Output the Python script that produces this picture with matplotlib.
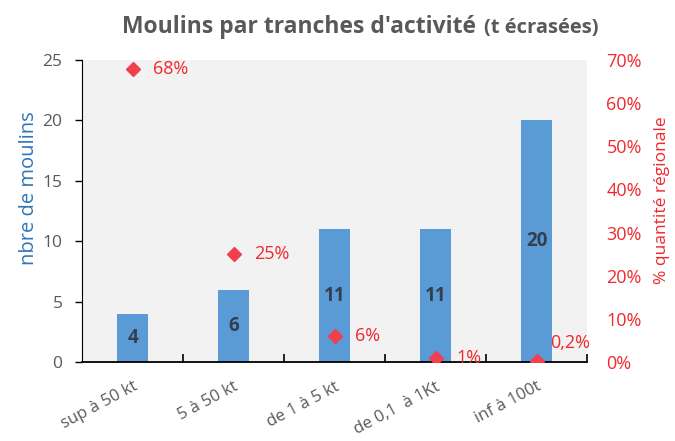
import matplotlib.pyplot as plt
import numpy as np

plt.rcParams['font.family'] = ['Open Sans', 'DejaVu Sans']

categories = ["sup à 50 kt", "5 à 50 kt", "de 1 à 5 kt", "de 0,1  à 1Kt", "inf à 100t"]
nb_moulins = [4, 6, 11, 11, 20]
pct_quantite = [68, 25, 6, 1, 0.2]
pct_labels = ["68%", "25%", "6%", "1%", "0,2%"]

blue = "#5B9BD5"
red = "#F0282D"
gray = "#595959"

fig = plt.figure(figsize=(6.75, 4.41), dpi=100)
ax = fig.add_axes([82/675, 1-362/441, 505/675, 302/441])
ax.set_facecolor("#F2F2F2")
x = np.arange(len(categories))

ax.bar(x, nb_moulins, width=0.31, color=blue, zorder=2)
for xi, v in zip(x, nb_moulins):
    ax.text(xi, v/2, str(v), ha="center", va="center", fontsize=13.5,
            fontweight="bold", color="#333F50", zorder=3)

ax.set_xlim(-0.5, 4.5)
ax.set_ylim(0, 25)
ax.set_yticks([0, 5, 10, 15, 20, 25])
ax.tick_params(axis="y", labelcolor=gray, labelsize=12.5, length=5, direction="out",
               width=1, color="black", pad=9)
ax.set_xticks(x)
ax.set_xticklabels(categories, rotation=28, ha="right", va="top", rotation_mode="anchor",
                   fontsize=12, color=gray)
ax.tick_params(axis="x", length=0, pad=12)
# petits traits entre les catégories
ax.set_xticks(np.arange(0.5, 5, 1), minor=True)
ax.tick_params(axis="x", which="minor", length=6, direction="in", color="black", width=1.2)
for s in ["top", "right"]:
    ax.spines[s].set_visible(False)
ax.spines["left"].set_color("black")
ax.spines["bottom"].set_color("black")
ax.spines["bottom"].set_linewidth(1.3)

# axe de droite : % quantité
ax2 = ax.twinx()
ax2.plot(x, pct_quantite, linestyle="none", marker="D", markersize=7,
         color="#F04050", zorder=4)
ax2.set_ylim(0, 70)
ax2.set_yticks(range(0, 71, 10))
ax2.set_yticklabels([f"{v}%" for v in range(0, 71, 10)])
ax2.tick_params(axis="y", colors=red, labelsize=13, length=0, pad=14)
for s in ["top", "right", "left", "bottom"]:
    ax2.spines[s].set_visible(False)

offsets = [(14.5, 0), (14.5, 0), (14.5, 0), (15, 0), (10, 13)]
for xi, v, lab, off in zip(x, pct_quantite, pct_labels, offsets):
    ax2.annotate(lab, (xi, v), xytext=off, textcoords="offset points",
                 ha="left", va="center", fontsize=13, color=red)

fig.text(29/675, 1-188/441, "nbre de moulins", rotation=90, ha="center", va="center",
         fontsize=14.5, color="#2E75B6")
fig.text(662/675, 1-200/441, "% quantité régionale", rotation=90, ha="center", va="center",
         fontsize=12.5, color=red)

t1 = fig.text(122/675, 1-33/441, "Moulins par tranches d'activité", ha="left", va="baseline",
              fontsize=16.5, fontweight="bold", color=gray)
fig.canvas.draw()
bb = t1.get_window_extent()
fig.text((bb.x1 + 8)/675, 1-33/441, "(t écrasées)", ha="left", va="baseline",
         fontsize=14.5, fontweight="bold", color=gray)

fig.savefig("out.png", dpi=100)
